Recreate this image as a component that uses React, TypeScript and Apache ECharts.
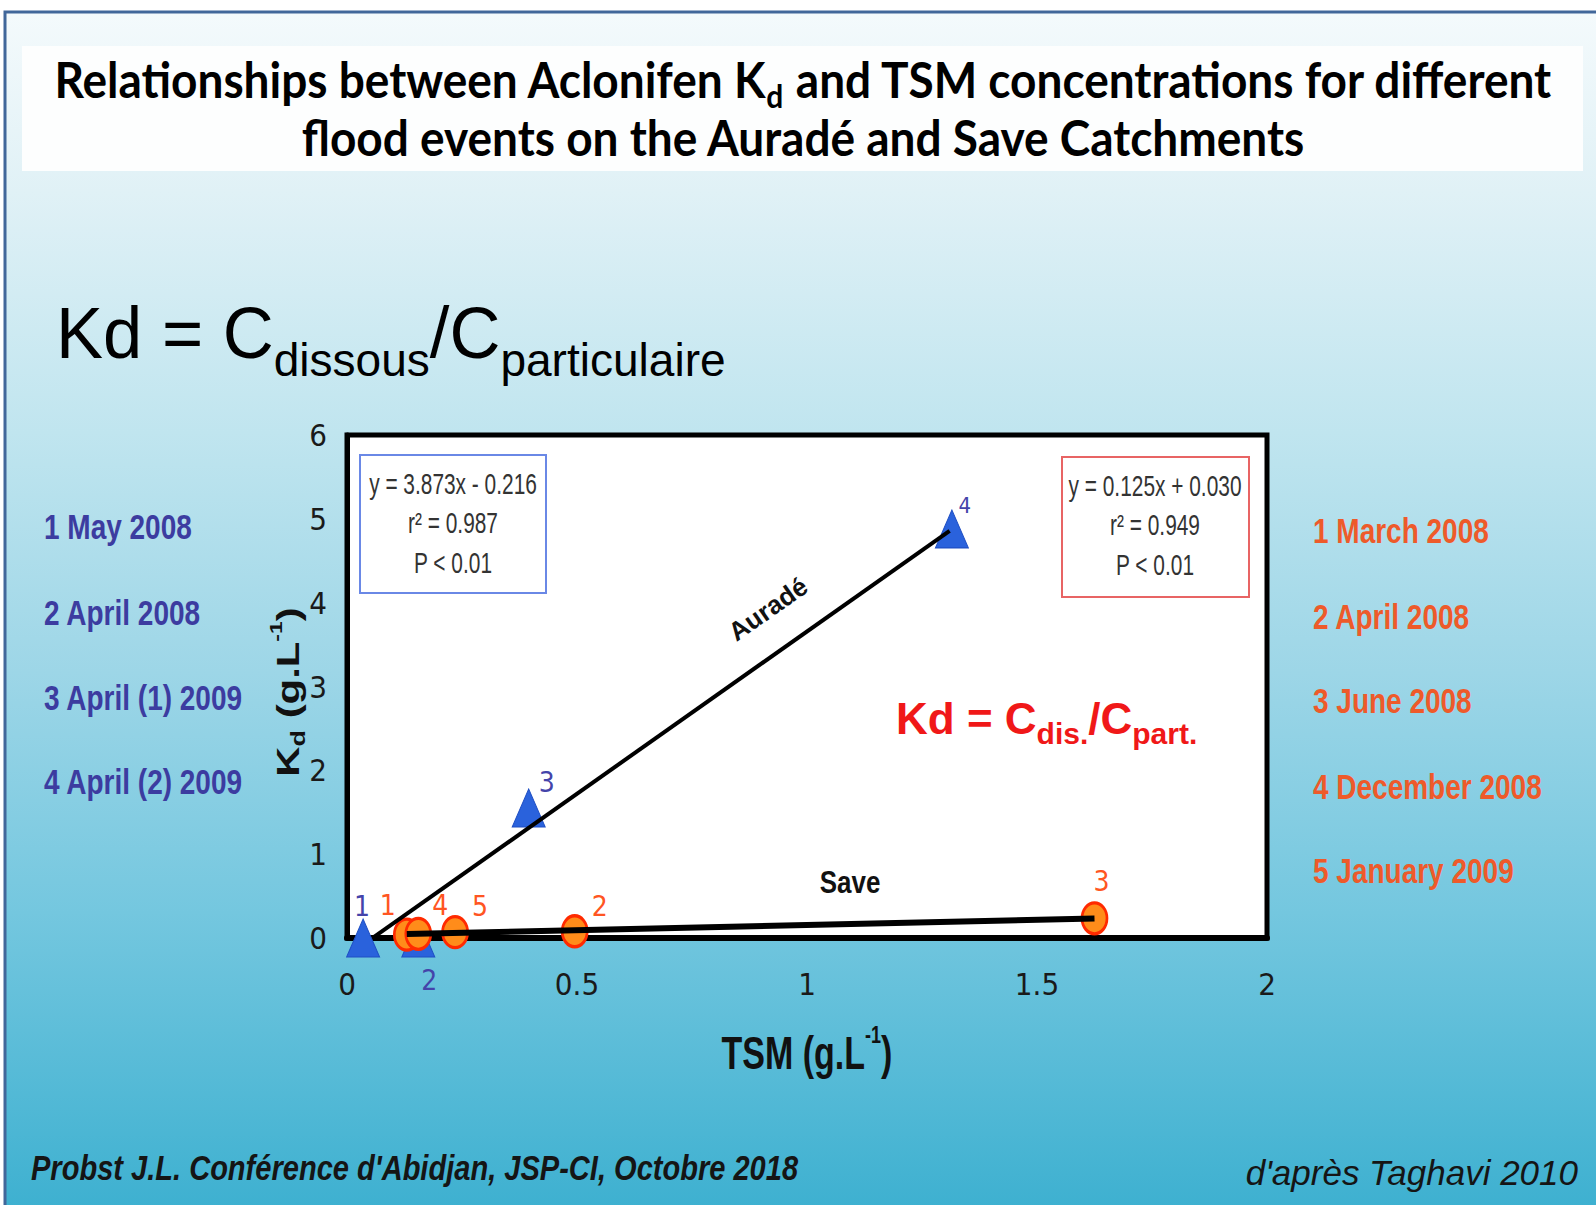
import React, { useEffect, useRef } from "react";
import * as echarts from "echarts";

// ---------- data ----------
const xTickValues = [0, 0.5, 1, 1.5, 2];
const yTickValues = [0, 1, 2, 3, 4, 5, 6];

const auradeTSM = [0.035, 0.155, 0.395, 1.315];
const auradeKd = [0.0, 0.0, 1.55, 4.88];
const auradeIds = ["1", "2", "3", "4"];

const saveTSM = [0.13, 0.155, 0.235, 0.495, 1.625];
const saveKd = [0.04, 0.05, 0.07, 0.08, 0.235];
const saveIds = ["1", "4", "5", "2", "3"];

const auradeSlope = 3.873;
const auradeIntercept = -0.216;
const auradeR2 = 0.987;
const auradeFitRange = [0.0558, 1.31];

const saveSlope = 0.125;
const saveIntercept = 0.03;
const saveR2 = 0.949;
const saveFitRange = [0.13, 1.625];

const auradeDates = ["1 May 2008", "2 April 2008", "3 April (1) 2009", "4 April (2) 2009"];
const saveDates = ["1 March 2008", "2 April 2008", "3 June 2008", "4 December 2008", "5 January 2009"];

// ---------- styling / positions (kept apart from data) ----------
const auradeLabelOffsets = [[-1, -32], [11, 42], [18, -26], [13, -23]];
const saveLabelOffsets = [[-19, -29], [22, -28], [25, -26], [25, -25], [7, -37]];
const auradeDateY = [527, 613, 698, 782];
const saveDateY = [531, 617, 701, 787, 871];

const SANS = "'Liberation Sans', Arial, sans-serif";
const NARROW = "'Liberation Sans Narrow', 'Arial Narrow', 'DejaVu Sans Condensed', 'Liberation Sans', sans-serif";
const TITLE_FONT = "Lato, 'Open Sans', sans-serif";
const ELLIPSE = "path://M50,0 A50,50 0 1,1 50,100 A50,50 0 1,1 50,0 Z";

const fmt3 = (v: number) => v.toFixed(3);
const eqText = (a: number, b: number) =>
  `y = ${fmt3(a)}x ${b < 0 ? "-" : "+"} ${fmt3(Math.abs(b))}`;

function txt(
  text: string,
  x: number,
  y: number,
  o: any = {}
): any {
  return {
    type: "text",
    x,
    y,
    z: 100,
    rotation: o.rotation || 0,
    scaleX: o.scaleX || 1,
    scaleY: o.scaleY || 1,
    style: {
      text,
      fill: o.fill || "#000",
      fontSize: o.fontSize || 20,
      fontFamily: o.fontFamily || SANS,
      fontWeight: o.fontWeight || "normal",
      fontStyle: o.fontStyle || "normal",
      align: o.align || "left",
      verticalAlign: o.verticalAlign || "middle",
      lineHeight: o.lineHeight,
      rich: o.rich,
    },
  };
}

function buildOption(): any {
  const auradeData = auradeTSM.map((x, i) => ({
    value: [x, auradeKd[i]],
    label: {
      show: true,
      formatter: auradeIds[i],
      position: "inside",
      offset: auradeLabelOffsets[i],
      color: "#4444aa",
      fontSize: i === 3 ? 22 : 28,
      fontFamily: NARROW,
    },
  }));
  const saveData = saveTSM.map((x, i) => ({
    value: [x, saveKd[i]],
    label: {
      show: true,
      formatter: saveIds[i],
      position: "inside",
      offset: saveLabelOffsets[i],
      color: "#ff5522",
      fontSize: 28,
      fontFamily: NARROW,
    },
  }));
  const auradeLine = auradeFitRange.map((x) => [x, auradeSlope * x + auradeIntercept]);
  const saveLine = saveFitRange.map((x) => [x, saveSlope * x + saveIntercept]);

  const bg = new echarts.graphic.LinearGradient(0, 0, 0, 1, [
    { offset: 0, color: "#f4fafc" },
    { offset: 0.15, color: "#e0f1f6" },
    { offset: 0.35, color: "#c0e5ef" },
    { offset: 0.55, color: "#9dd6e7" },
    { offset: 0.75, color: "#74c7df" },
    { offset: 1, color: "#3db0d0" },
  ]);

  const elements: any[] = [
    { type: "rect", z: -100, shape: { x: 0, y: 0, width: 1596, height: 1205 }, style: { fill: "#ffffff" } },
    {
      type: "rect",
      z: -99,
      shape: { x: 5, y: 12, width: 1600, height: 1200 },
      style: { fill: bg, stroke: "#41679a", lineWidth: 3 },
    },
    { type: "rect", z: -98, shape: { x: 22, y: 46, width: 1561, height: 125 }, style: { fill: "#fdfefe" } },
    // title
    txt("{m|Relationships between Aclonifen K}{s|d}{m| and TSM concentrations for different}", 803, 79, {
      align: "center",
      scaleY: 1.08,
      rich: {
        m: { fontSize: 46, fontWeight: "bold", fontFamily: TITLE_FONT, fill: "#000", lineHeight: 60 },
        s: { fontSize: 30, fontWeight: "bold", fontFamily: TITLE_FONT, fill: "#000", lineHeight: 36, verticalAlign: "bottom" },
      },
    }),
    txt("flood events on the Auradé and Save Catchments", 803, 137, {
      align: "center",
      scaleY: 1.08,
      fontSize: 46,
      fontWeight: "bold",
      fontFamily: TITLE_FONT,
    }),
    // big formula
    txt("{m|Kd = C}{s|dissous}{m|/C}{s|particulaire}", 56, 333, {
      scaleX: 0.98,
      rich: {
        m: { fontSize: 72, fontFamily: SANS, fill: "#000", lineHeight: 100 },
        s: { fontSize: 47, fontFamily: SANS, fill: "#000", lineHeight: 48, verticalAlign: "bottom" },
      },
    }),
    // stats boxes
    {
      type: "rect",
      z: 90,
      shape: { x: 360, y: 455, width: 186, height: 138 },
      style: { fill: "#ffffff", stroke: "#6a88e6", lineWidth: 2 },
    },
    txt(`${eqText(auradeSlope, auradeIntercept)}\nr² = ${fmt3(auradeR2)}\nP < 0.01`, 453, 523, {
      align: "center",
      fontSize: 22,
      lineHeight: 29,
      scaleX: 0.95,
      scaleY: 1.35,
      fill: "#333",
    }),
    {
      type: "rect",
      z: 90,
      shape: { x: 1062, y: 457, width: 187, height: 140 },
      style: { fill: "#ffffff", stroke: "#e86464", lineWidth: 2 },
    },
    txt(`${eqText(saveSlope, saveIntercept)}\nr² = ${fmt3(saveR2)}\nP < 0.01`, 1155, 525, {
      align: "center",
      fontSize: 22,
      lineHeight: 29,
      scaleX: 0.95,
      scaleY: 1.35,
      fill: "#333",
    }),
    // line names
    txt("Auradé", 768, 609, {
      align: "center",
      fontSize: 26,
      fontWeight: "bold",
      rotation: (35 * Math.PI) / 180,
      fill: "#111",
    }),
    txt("Save", 850, 882, { align: "center", fontSize: 26, fontWeight: "bold", scaleY: 1.2, fill: "#111" }),
    // red formula
    txt("{m|Kd = C}{s|dis.}{m|/C}{s|part.}", 896, 718, {
      rich: {
        m: { fontSize: 44, fontWeight: "bold", fontFamily: SANS, fill: "#f01818", lineHeight: 60 },
        s: { fontSize: 30, fontWeight: "bold", fontFamily: SANS, fill: "#f01818", lineHeight: 36, verticalAlign: "bottom" },
      },
    }),
    // axis names
    txt("{m|TSM (g.L}{p|-1}{m|)}", 807, 1053, {
      align: "center",
      scaleY: 1.35,
      rich: {
        m: { fontSize: 34, fontWeight: "bold", fontFamily: SANS, fill: "#111", lineHeight: 44 },
        p: { fontSize: 18, fontWeight: "bold", fontFamily: SANS, fill: "#111", lineHeight: 22, verticalAlign: "top" },
      },
    }),
    txt("{m|K}{s|d}{m| (g.L}{p|-1}{m|)}", 288, 692, {
      align: "center",
      rotation: Math.PI / 2,
      scaleX: 1.35,
      rich: {
        m: { fontSize: 31, fontWeight: "bold", fontFamily: SANS, fill: "#111", lineHeight: 40 },
        s: { fontSize: 20, fontWeight: "bold", fontFamily: SANS, fill: "#111", lineHeight: 24, verticalAlign: "bottom" },
        p: { fontSize: 17, fontWeight: "bold", fontFamily: SANS, fill: "#111", lineHeight: 22, verticalAlign: "top" },
      },
    }),
    // footer
    txt("Probst J.L. Conférence d'Abidjan, JSP-CI, Octobre 2018", 31, 1168, {
      fontSize: 35,
      fontWeight: "bold",
      fontStyle: "italic",
      scaleX: 0.83,
      fill: "#151515",
    }),
    txt("d'après Taghavi 2010", 1578, 1172, {
      align: "right",
      fontSize: 35,
      fontStyle: "italic",
      fill: "#151515",
    }),
  ];

  auradeDates.forEach((d, i) =>
    elements.push(
      txt(d, 44, auradeDateY[i], { fontSize: 28, fontWeight: "bold", scaleY: 1.28, fill: "#3c3ca0" })
    )
  );
  saveDates.forEach((d, i) =>
    elements.push(
      txt(d, 1313, saveDateY[i], { fontSize: 28, fontWeight: "bold", scaleY: 1.28, fill: "#ee5a2a" })
    )
  );

  return {
    animation: false,
    backgroundColor: "transparent",
    grid: {
      left: 347,
      top: 435,
      width: 920,
      height: 503,
      show: true,
      backgroundColor: "#ffffff",
      borderColor: "#000000",
      borderWidth: 5,
      containLabel: false,
    },
    xAxis: {
      type: "value",
      min: xTickValues[0],
      max: xTickValues[xTickValues.length - 1],
      interval: 0.5,
      axisLine: { show: true, onZero: false, lineStyle: { color: "#000", width: 6 } },
      axisTick: { show: false },
      splitLine: { show: false },
      axisLabel: { fontSize: 31, color: "#1a1a1a", margin: 30, fontFamily: NARROW },
    },
    yAxis: {
      type: "value",
      min: yTickValues[0],
      max: yTickValues[yTickValues.length - 1],
      interval: 1,
      axisLine: { show: true, onZero: false, lineStyle: { color: "#000", width: 5 } },
      axisTick: { show: false },
      splitLine: { show: false },
      axisLabel: { fontSize: 31, color: "#1a1a1a", margin: 20, fontFamily: NARROW },
    },
    series: [
      {
        type: "scatter",
        name: "Auradé",
        data: auradeData,
        symbol: "triangle",
        symbolSize: [33, 38],
        itemStyle: { color: "#2a62dc", borderColor: "#1f4fc4", borderWidth: 1, opacity: 1 },
        clip: false,
        z: 3,
      },
      {
        type: "scatter",
        name: "Save",
        data: saveData,
        symbol: ELLIPSE,
        symbolSize: [25, 31],
        itemStyle: { color: "#ff8c1a", borderColor: "#ff2a00", borderWidth: 3, opacity: 1 },
        clip: false,
        z: 3,
      },
      {
        type: "line",
        name: "Auradé fit",
        data: auradeLine,
        symbol: "none",
        lineStyle: { color: "#000", width: 4 },
        clip: false,
        z: 5,
      },
      {
        type: "line",
        name: "Save fit",
        data: saveLine,
        symbol: "none",
        lineStyle: { color: "#000", width: 6 },
        clip: false,
        z: 5,
      },
    ],
    graphic: { elements },
  };
}

export default function App() {
  const ref = useRef<HTMLDivElement>(null);
  useEffect(() => {
    if (!ref.current) return;
    const chart = echarts.init(ref.current, null, { renderer: "svg" });
    chart.setOption(buildOption());
    return () => chart.dispose();
  }, []);
  return (
    <div
      ref={ref}
      style={{ position: "fixed", left: 0, top: 0, width: 1596, height: 1205, background: "#fff" }}
    />
  );
}
